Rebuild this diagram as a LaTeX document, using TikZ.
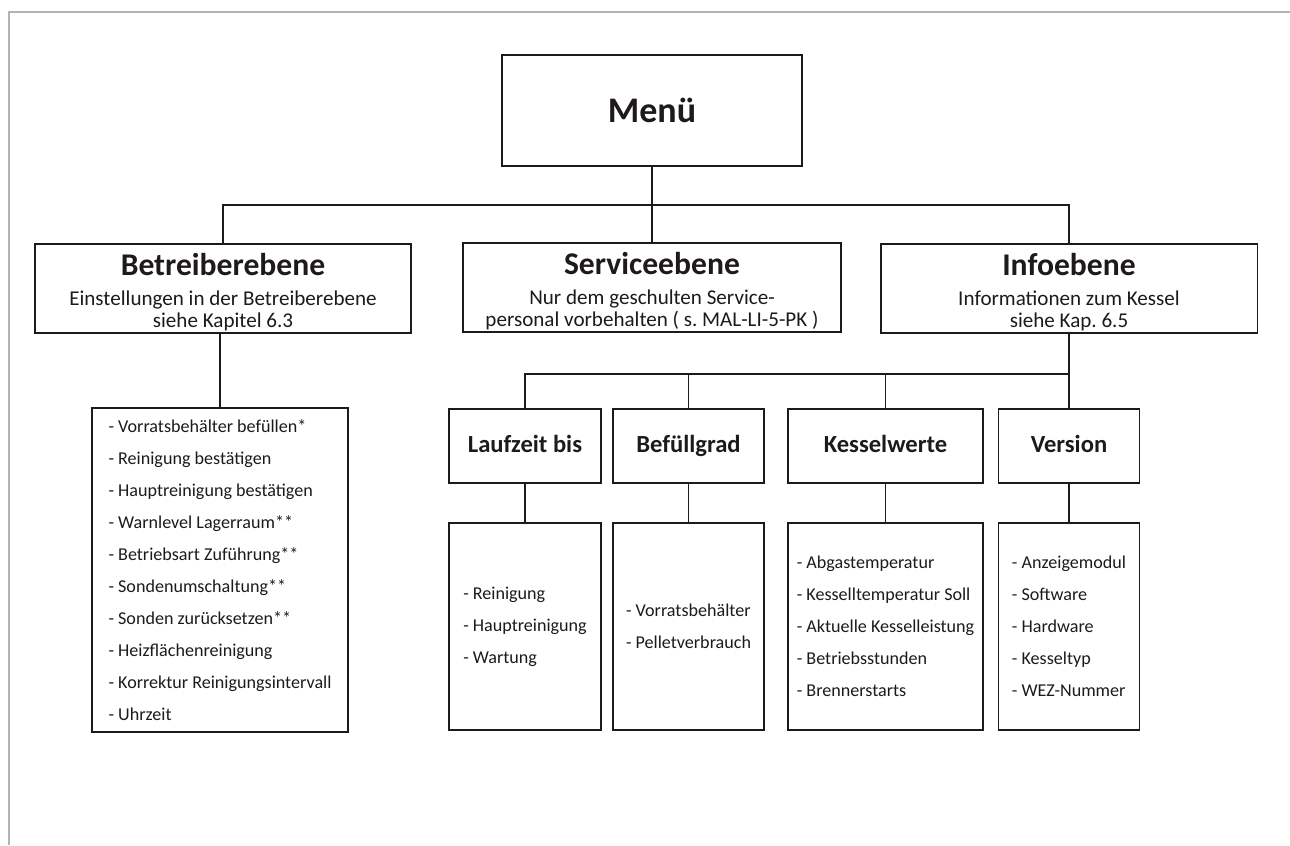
\documentclass[tikz,border=0pt]{standalone}
\usepackage{fontspec}
\setmainfont{Carlito}
\frenchspacing
\definecolor{ink}{HTML}{1E1A1B}
\definecolor{rim}{HTML}{B2B6B2}

\begin{document}
\begin{tikzpicture}[x=0.02cm,y=-0.02cm,
 box/.style={draw=ink,line width=1.1pt,inner sep=0pt,align=center,text=ink},
 level/.style={box,minimum height=1.78cm,font=\fontsize{12}{12.5}\selectfont},
 sub/.style={box,minimum height=1.48cm,text height=10.5pt,text depth=3pt,font=\fontsize{14}{16}\bfseries},
 items/.style={box,align=left,font=\fontsize{10.3}{18.2}\selectfont},
 link/.style={draw=ink,line width=1.1pt}]
%\draw[help lines] (0,0) grid[step=50] (1290,845);
\useasboundingbox (0,0) rectangle (1290,845);
\draw[rim,line width=0.6pt] (9,845) -- (9,12) -- (1290,12);

% top
\node[box,minimum width=6cm,minimum height=2.22cm,font=\fontsize{20.5}{22}\bfseries] (menu) at (652,110.5) {Menü};

% three levels
\node[level,minimum width=7.52cm] (betr) at (223,288.5)
 {\rule{0pt}{17pt}{\fontsize{18}{18}\bfseries Betreiberebene}\\[4.5pt]Einstellungen in der Betreiberebene\\siehe Kapitel 6.3};
\node[level,minimum width=7.56cm] (serv) at (652,287.5)
 {\rule{0pt}{17pt}{\fontsize{18}{18}\bfseries Serviceebene}\\[4.5pt]Nur dem geschulten Service-\\personal vorbehalten ( s. MAL-LI-5-PK )};
\node[level,minimum width=7.54cm] (info) at (1069,288.5)
 {\rule{0pt}{17pt}{\fontsize{18}{18}\bfseries Infoebene}\\[4.5pt]Informationen zum Kessel\\siehe Kap. 6.5};

\coordinate (top) at (652,205);
\draw[link] (menu) -- (top);
\draw[link] (betr.north) |- (top) -| (info.north);
\draw[link] (serv) -- (top);

% settings list
\node[items,minimum width=5.12cm,minimum height=6.48cm] (betrlist) at (220,570)
 {- Vorratsbehälter befüllen*\\- Reinigung bestätigen\\- Hauptreinigung bestätigen\\- Warnlevel Lagerraum**\\- Betriebsart Zuführung**\\- Sondenumschaltung**\\- Sonden zurücksetzen**\\- Heizflächenreinigung\\- Korrektur Reinigungsintervall\\- Uhrzeit};
\draw[link] (betr.south -| betrlist.north) -- (betrlist.north);

% info pages
\node[sub,minimum width=3.04cm] (lauf) at (525,446) {Laufzeit bis};
\node[sub,minimum width=3.02cm] (bef) at (688.5,446) {Befüllgrad};
\node[sub,minimum width=3.9cm] (kess) at (885.5,446) {Kesselwerte};
\node[sub,minimum width=2.82cm] (vers) at (1069,446) {Version};

\node[items,minimum width=3.04cm,minimum height=4.14cm] (lauflist) at (525,626.5)
 {- Reinigung\\- Hauptreinigung\\- Wartung};
\node[items,minimum width=3.02cm,minimum height=4.14cm] (beflist) at (688.5,626.5)
 {- Vorratsbehälter\\- Pelletverbrauch};
\node[items,minimum width=3.9cm,minimum height=4.14cm] (kesslist) at (885.5,626.5)
 {- Abgastemperatur\\- Kesselltemperatur Soll\\- Aktuelle Kesselleistung\\- Betriebsstunden\\- Brennerstarts};
\node[items,minimum width=2.82cm,minimum height=4.14cm] (verslist) at (1069,626.5)
 {- Anzeigemodul\\- Software\\- Hardware\\- Kesseltyp\\- WEZ-Nummer};

\coordinate (mid) at (1069,374);
\draw[link] (info) -- (vers);
\draw[link] (lauf.north) |- (mid);
\draw[link] (bef.north) -- (bef.north |- mid);
\draw[link] (kess.north) -- (kess.north |- mid);

\draw[link] (lauf) -- (lauflist);
\draw[link] (bef) -- (beflist);
\draw[link] (kess) -- (kesslist);
\draw[link] (vers) -- (verslist);
\end{tikzpicture}
\end{document}
